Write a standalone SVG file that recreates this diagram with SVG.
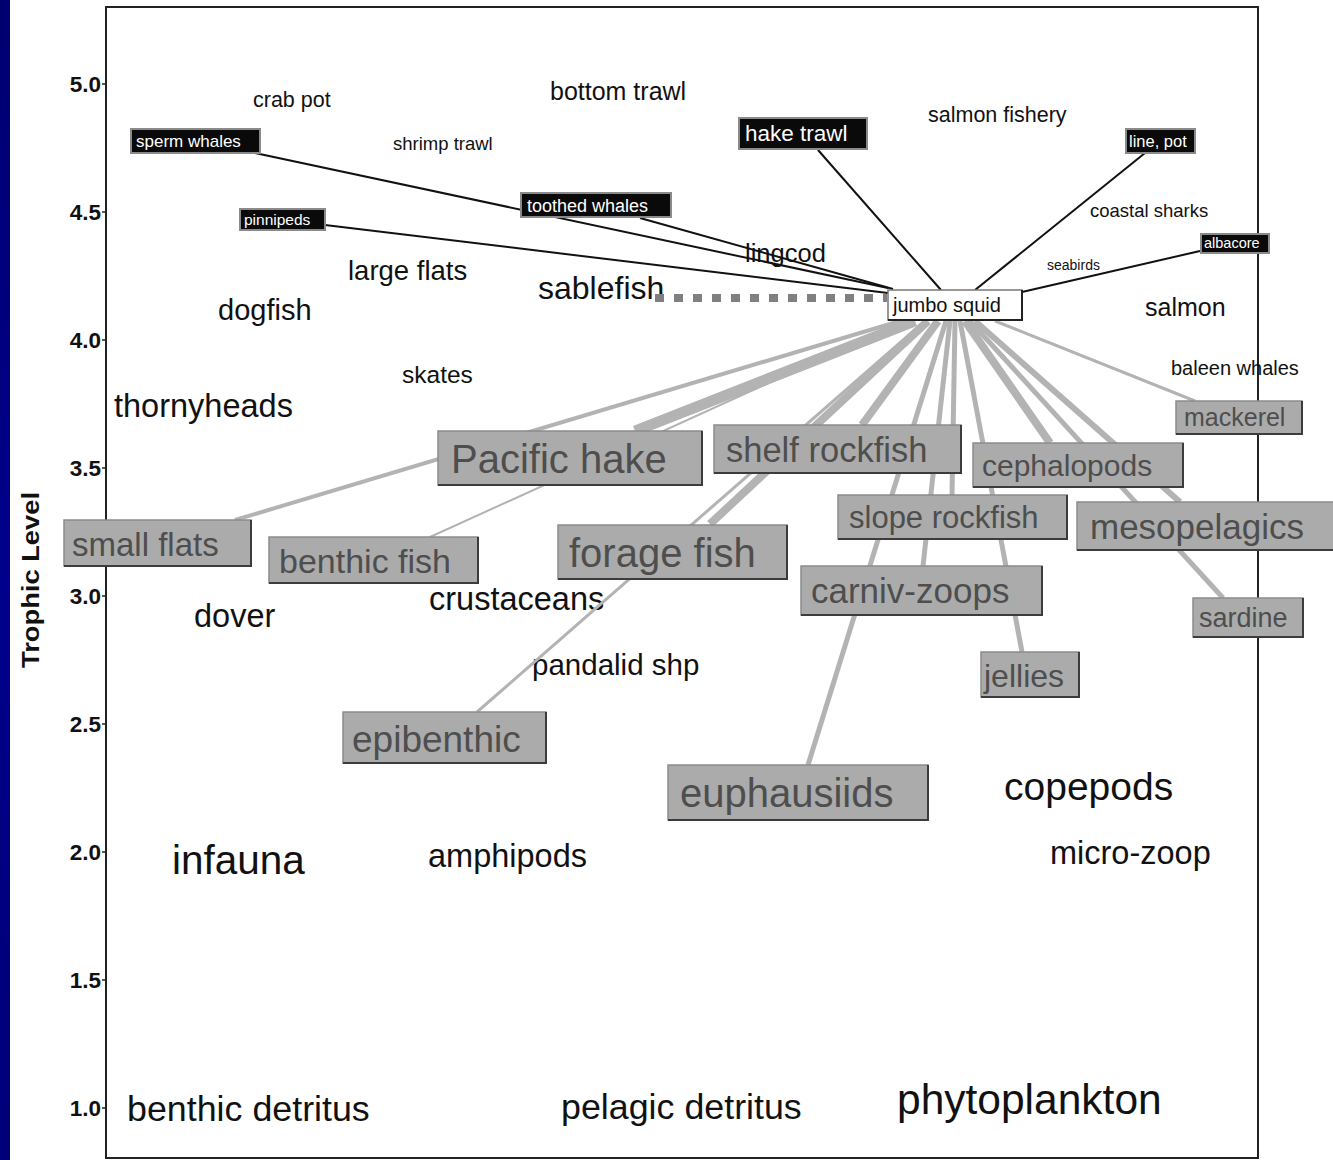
<svg xmlns="http://www.w3.org/2000/svg" width="1333" height="1160" viewBox="0 0 1333 1160">
<defs>
<linearGradient id="blue" x1="0" y1="0" x2="0" y2="1">
<stop offset="0" stop-color="#000070"/><stop offset="0.5" stop-color="#00008c"/><stop offset="1" stop-color="#000078"/>
</linearGradient>
</defs>
<style>
text{font-family:"Liberation Sans",Arial,sans-serif}
.lbl{fill:#111}
.axl{font-weight:bold;font-size:22.5px;fill:#111;text-anchor:end}
.gb rect{fill:#ababab;stroke:#8c8c8c;stroke-width:1.5}
.gb path{fill:none;stroke:#3c3c3c;stroke-width:2}
.gb text{fill:#4e4e4e}
.bb rect{fill:#0a0a0a;stroke:#8a8a8a;stroke-width:2}
.bb text{fill:#fff}
.gl{stroke:#b3b3b3;stroke-linecap:butt}
.bl{stroke:#111;stroke-width:2}
</style>
<rect x="0" y="0" width="1333" height="1160" fill="#fff"/>
<rect x="0" y="0" width="10" height="1160" fill="url(#blue)"/>
<g id="frame">
<rect x="106" y="7" width="1152" height="1151" fill="none" stroke="#222" stroke-width="2"/>
<g stroke="#222" stroke-width="1.5">
<line x1="102" y1="84" x2="106" y2="84"/><line x1="102" y1="212" x2="106" y2="212"/><line x1="102" y1="340" x2="106" y2="340"/><line x1="102" y1="468" x2="106" y2="468"/><line x1="102" y1="596" x2="106" y2="596"/><line x1="102" y1="724" x2="106" y2="724"/><line x1="102" y1="852" x2="106" y2="852"/><line x1="102" y1="980" x2="106" y2="980"/><line x1="102" y1="1108" x2="106" y2="1108"/>
</g>
<text class="axl" x="101" y="92">5.0</text>
<text class="axl" x="101" y="220">4.5</text>
<text class="axl" x="101" y="348">4.0</text>
<text class="axl" x="101" y="476">3.5</text>
<text class="axl" x="101" y="604">3.0</text>
<text class="axl" x="101" y="732">2.5</text>
<text class="axl" x="101" y="860">2.0</text>
<text class="axl" x="101" y="988">1.5</text>
<text class="axl" x="101" y="1116">1.0</text>
<text x="0" y="0" transform="translate(39,580) rotate(-90)" text-anchor="middle" font-weight="bold" font-size="24" fill="#111" textLength="176" lengthAdjust="spacingAndGlyphs">Trophic Level</text>
</g>
<g id="labels">
<text id="crab-pot" class="lbl" x="253" y="107" font-size="21.5">crab pot</text>
<text id="bottom-trawl" class="lbl" x="550" y="100" font-size="25">bottom trawl</text>
<text id="shrimp-trawl" class="lbl" x="393" y="150" font-size="18.5">shrimp trawl</text>
<text id="salmon-fishery" class="lbl" x="928" y="122" font-size="21.5">salmon fishery</text>
<text id="coastal-sharks" class="lbl" x="1090" y="217" font-size="18.5">coastal sharks</text>
<text id="seabirds" class="lbl" x="1047" y="270" font-size="14">seabirds</text>
<text id="lingcod" class="lbl" x="745" y="262" font-size="25.5">lingcod</text>
<text id="large-flats" class="lbl" x="348" y="280" font-size="27.5">large flats</text>
<text id="sablefish" class="lbl" x="538" y="299" font-size="32">sablefish</text>
<text id="dogfish" class="lbl" x="218" y="320" font-size="29">dogfish</text>
<text id="salmon" class="lbl" x="1145" y="316" font-size="25">salmon</text>
<text id="baleen-whales" class="lbl" x="1171" y="375" font-size="20">baleen whales</text>
<text id="skates" class="lbl" x="402" y="383" font-size="24.5">skates</text>
<text id="thornyheads" class="lbl" x="114" y="417" font-size="32.5">thornyheads</text>
<text id="dover" class="lbl" x="194" y="627" font-size="32.5">dover</text>
<text id="crustaceans" class="lbl" x="429" y="610" font-size="32.5">crustaceans</text>
<text id="pandalid-shp" class="lbl" x="532" y="675" font-size="29.5">pandalid shp</text>
<text id="copepods" class="lbl" x="1004" y="800" font-size="39">copepods</text>
<text id="amphipods" class="lbl" x="428" y="867" font-size="32.5">amphipods</text>
<text id="micro-zoop" class="lbl" x="1050" y="864" font-size="32.5">micro-zoop</text>
<text id="infauna" class="lbl" x="172" y="874" font-size="40.5">infauna</text>
<text id="benthic-detritus" class="lbl" x="127" y="1121" font-size="35.8">benthic detritus</text>
<text id="pelagic-detritus" class="lbl" x="561" y="1119" font-size="35.8">pelagic detritus</text>
<text id="phytoplankton" class="lbl" x="897" y="1114" font-size="42.5">phytoplankton</text>
</g>
<g id="connectors">
<line class="gl" stroke-width="4" x1="235" y1="520" x2="900" y2="321"/>
<line class="gl" stroke-width="2" x1="430" y1="537" x2="905" y2="321"/>
<line class="gl" stroke-width="11" x1="635" y1="431" x2="915" y2="321"/>
<line class="gl" stroke-width="3" x1="477" y1="712" x2="925" y2="321"/>
<line class="gl" stroke-width="8" x1="710" y1="524" x2="928" y2="321"/>
<line class="gl" stroke-width="8" x1="862" y1="425" x2="938" y2="321"/>
<line class="gl" stroke-width="5" x1="808" y1="765" x2="946" y2="321"/>
<line class="gl" stroke-width="5" x1="923" y1="566" x2="950" y2="321"/>
<line class="gl" stroke-width="5" x1="952" y1="495" x2="955" y2="321"/>
<line class="gl" stroke-width="5" x1="1022" y1="652" x2="960" y2="321"/>
<line class="gl" stroke-width="8" x1="1050" y1="443" x2="965" y2="321"/>
<line class="gl" stroke-width="5" x1="1223" y1="598" x2="970" y2="321"/>
<line class="gl" stroke-width="6" x1="1180" y1="502" x2="975" y2="321"/>
<line class="gl" stroke-width="3" x1="1195" y1="401" x2="995" y2="321"/>
<line class="bl" x1="255" y1="153" x2="888" y2="288"/>
<line class="bl" x1="325" y1="225" x2="888" y2="293"/>
<line class="bl" stroke-width="3" x1="640" y1="218" x2="893" y2="289"/>
<line class="bl" x1="818" y1="150" x2="941" y2="290"/>
<line class="bl" x1="1145" y1="153" x2="975" y2="290"/>
<line class="bl" x1="1200" y1="251" x2="1022" y2="292"/>
<line stroke="#808080" stroke-width="8" stroke-dasharray="9 10" x1="655" y1="298" x2="887" y2="298"/>
</g>
<g id="sperm-whales" class="bb"><rect x="131" y="129" width="129" height="24"/><text x="136" y="147" font-size="17">sperm whales</text></g>
<g id="pinnipeds" class="bb"><rect x="240" y="209" width="85" height="21"/><text x="244" y="225" font-size="15.5">pinnipeds</text></g>
<g id="toothed-whales" class="bb"><rect x="521" y="193" width="150" height="24"/><text x="527" y="212" font-size="18">toothed whales</text></g>
<g id="hake-trawl" class="bb"><rect x="739" y="118" width="128" height="31"/><text x="745" y="141" font-size="22.5">hake trawl</text></g>
<g id="line-pot" class="bb"><rect x="1126" y="129" width="69" height="24"/><text x="1129" y="147" font-size="16.5">line, pot</text></g>
<g id="albacore" class="bb"><rect x="1201" y="234" width="68" height="19"/><text x="1204" y="248" font-size="14.5">albacore</text></g>
<g id="jumbo-squid"><rect x="888" y="290" width="134" height="30" fill="#fff" stroke="#777" stroke-width="1.5"/><path d="M888,320 H1022 V290" fill="none" stroke="#222" stroke-width="2"/><text x="893" y="312" font-size="20" fill="#111">jumbo squid</text></g>
<g id="small-flats" class="gb"><rect x="64" y="520" width="187" height="46"/><path d="M64,566 H251 V520"/><text x="72" y="556" font-size="33">small flats</text></g>
<g id="benthic-fish" class="gb"><rect x="269" y="537" width="209" height="46"/><path d="M269,583 H478 V537"/><text x="279" y="573" font-size="34">benthic fish</text></g>
<g id="pacific-hake" class="gb"><rect x="438" y="431" width="264" height="54"/><path d="M438,485 H702 V431"/><text x="451" y="473" font-size="40">Pacific hake</text></g>
<g id="shelf-rockfish" class="gb"><rect x="714" y="425" width="247" height="48"/><path d="M714,473 H961 V425"/><text x="726" y="462" font-size="34.5">shelf rockfish</text></g>
<g id="forage-fish" class="gb"><rect x="558" y="525" width="229" height="54"/><path d="M558,579 H787 V525"/><text x="569" y="567" font-size="40">forage fish</text></g>
<g id="epibenthic" class="gb"><rect x="343" y="712" width="203" height="51"/><path d="M343,763 H546 V712"/><text x="352" y="752" font-size="37">epibenthic</text></g>
<g id="euphausiids" class="gb"><rect x="668" y="765" width="260" height="55"/><path d="M668,820 H928 V765"/><text x="680" y="807" font-size="40">euphausiids</text></g>
<g id="slope-rockfish" class="gb"><rect x="838" y="495" width="229" height="44"/><path d="M838,539 H1067 V495"/><text x="849" y="528" font-size="31">slope rockfish</text></g>
<g id="carniv-zoops" class="gb"><rect x="801" y="566" width="241" height="49"/><path d="M801,615 H1042 V566"/><text x="811" y="603" font-size="35">carniv-zoops</text></g>
<g id="cephalopods" class="gb"><rect x="973" y="443" width="210" height="44"/><path d="M973,487 H1183 V443"/><text x="982" y="476" font-size="30">cephalopods</text></g>
<g id="mesopelagics" class="gb"><rect x="1077" y="502" width="258" height="48"/><path d="M1077,550 H1335"/><text x="1090" y="539" font-size="35">mesopelagics</text></g>
<g id="mackerel" class="gb"><rect x="1176" y="401" width="126" height="33"/><path d="M1176,434 H1302 V401"/><text x="1184" y="426" font-size="25">mackerel</text></g>
<g id="sardine" class="gb"><rect x="1193" y="598" width="110" height="39"/><path d="M1193,637 H1303 V598"/><text x="1199" y="627" font-size="27">sardine</text></g>
<g id="jellies" class="gb"><rect x="981" y="652" width="98" height="45"/><path d="M981,697 H1079 V652"/><text x="984" y="687" font-size="32">jellies</text></g>
</svg>
